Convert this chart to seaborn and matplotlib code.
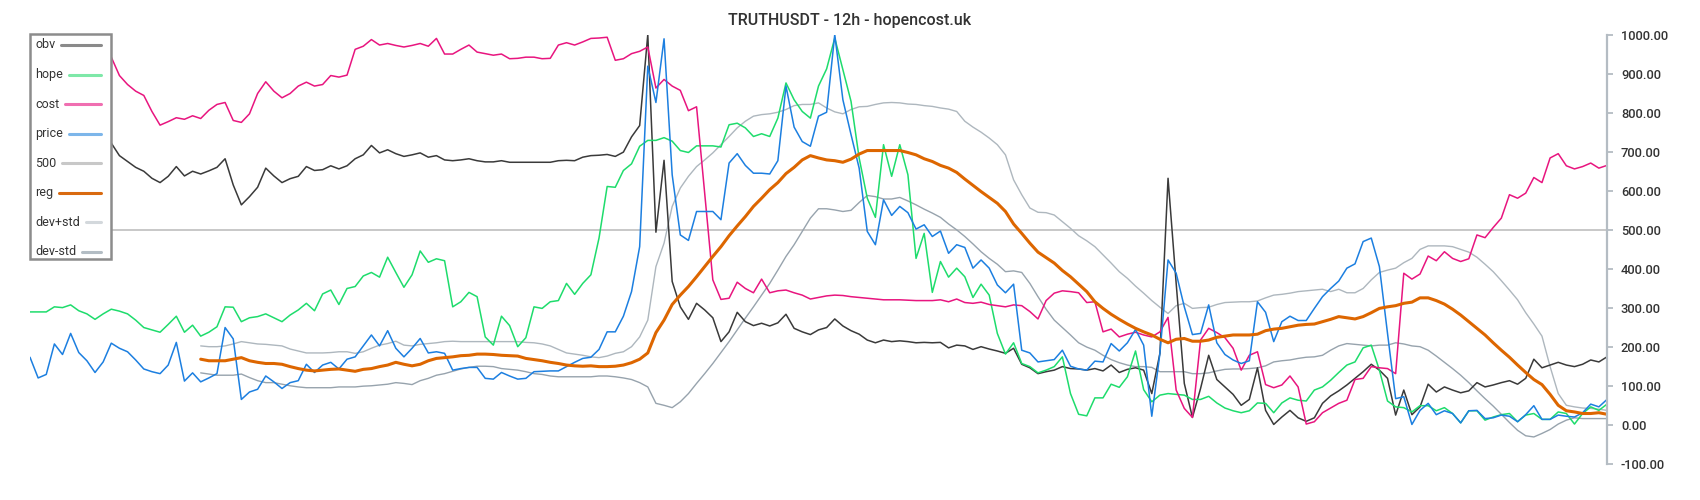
#%% IMPORT PACKAGES AND GLOBAL CONFIGURATIONS
import numpy as np
import pandas as pd
import matplotlib.pyplot as plt
from matplotlib.lines import Line2D
from matplotlib.patches import Rectangle
import seaborn as sns

sns.set_theme(style="white")
plt.rcParams["font.family"] = ["Roboto", "DejaVu Sans"]

#%% DATA
title = 'TRUTHUSDT - 12h - hopencost.uk'
band_start = 21  # reg / dev bands start at this bar
level = 500

obv = [735, 740, 745, 742, 738, 735, 732, 730, 728, 726,
       722, 690, 675, 660, 650, 632, 621, 637, 662, 638,
       650, 643, 651, 660, 682, 615, 564, 585, 609, 658,
       638, 621, 631, 637, 662, 652, 654, 664, 656, 664,
       682, 692, 716, 697, 705, 695, 688, 692, 697, 686,
       690, 679, 677, 679, 682, 677, 674, 674, 677, 673,
       673, 673, 673, 673, 673, 677, 678, 677, 686, 690,
       691, 693, 688, 699, 738, 767, 1000, 494, 678, 368,
       303, 271, 312, 295, 275, 214, 239, 289, 265, 255,
       261, 254, 262, 284, 248, 239, 232, 244, 250, 272,
       254, 242, 233, 218, 211, 218, 214, 216, 214, 211,
       212, 211, 212, 198, 205, 203, 194, 201, 195, 190,
       184, 197, 156, 147, 132, 137, 141, 150, 145, 144,
       141, 145, 139, 154, 135, 143, 147, 141, 81, 184,
       632, 363, 107, 20, 94, 179, 117, 98, 79, 51,
       66, 147, 38, 2, 21, 38, 19, 10, 19, 56,
       75, 88, 103, 120, 137, 156, 141, 120, 26, 90,
       27, 47, 105, 85, 98, 90, 83, 88, 109, 98,
       103, 109, 114, 105, 120, 169, 147, 154, 161, 154,
       150, 156, 167, 162, 175]

hope = [290, 290, 290, 303, 301, 308, 293, 285, 271, 285,
        297, 292, 285, 269, 250, 244, 238, 258, 279, 238,
        256, 228, 238, 252, 303, 302, 265, 275, 278, 285,
        275, 265, 282, 295, 312, 293, 336, 346, 309, 350,
        355, 382, 391, 379, 430, 391, 353, 385, 446, 417,
        426, 421, 303, 316, 340, 329, 226, 205, 279, 255,
        201, 224, 303, 299, 316, 319, 363, 335, 363, 385,
        479, 611, 609, 652, 669, 714, 729, 729, 736, 727,
        703, 698, 715, 715, 715, 712, 769, 773, 761, 739,
        746, 739, 786, 876, 833, 803, 786, 868, 912, 991,
        910, 829, 684, 581, 532, 718, 637, 718, 641, 427,
        491, 340, 419, 379, 402, 380, 327, 361, 333, 235,
        182, 211, 158, 150, 134, 141, 150, 175, 81, 28,
        24, 70, 70, 105, 97, 124, 190, 91, 60, 77,
        81, 79, 77, 66, 66, 74, 57, 44, 37, 32,
        37, 57, 56, 32, 57, 70, 64, 62, 90, 98,
        115, 135, 154, 162, 198, 205, 141, 62, 47, 45,
        34, 50, 50, 37, 45, 30, 6, 37, 37, 13,
        21, 27, 30, 9, 26, 30, 15, 15, 34, 30,
        3, 30, 47, 38, 54]

cost = [985, 992, 998, 1000, 995, 990, 985, 975, 965, 955,
        942, 895, 872, 855, 844, 803, 768, 777, 787, 783,
        792, 785, 806, 821, 826, 780, 775, 797, 849, 879,
        855, 838, 849, 868, 878, 868, 872, 895, 891, 896,
        962, 970, 987, 973, 977, 972, 968, 972, 977, 970,
        990, 950, 950, 962, 973, 955, 951, 947, 950, 938,
        939, 942, 942, 938, 939, 973, 979, 973, 981, 990,
        991, 993, 934, 938, 951, 957, 968, 863, 885, 868,
        857, 805, 815, 594, 372, 322, 325, 366, 350, 339,
        374, 339, 344, 346, 339, 333, 323, 327, 331, 333,
        332, 329, 327, 325, 323, 321, 321, 321, 320, 319,
        319, 319, 321, 316, 323, 314, 312, 315, 309, 306,
        303, 308, 306, 291, 272, 319, 338, 344, 342, 339,
        314, 316, 239, 246, 226, 233, 238, 231, 226, 239,
        276, 90, 43, 20, 218, 248, 237, 224, 197, 141,
        179, 188, 104, 96, 103, 126, 98, 3, 9, 32,
        44, 56, 64, 117, 120, 150, 147, 145, 132, 389,
        374, 387, 433, 421, 444, 427, 419, 426, 487, 480,
        506, 530, 590, 581, 594, 634, 621, 684, 695, 664,
        656, 662, 671, 658, 665]

price = [174, 121, 130, 208, 181, 235, 186, 165, 135, 162,
         210, 197, 188, 167, 144, 137, 132, 154, 212, 113,
         134, 111, 121, 132, 250, 221, 66, 85, 92, 126,
         111, 94, 109, 114, 156, 135, 154, 161, 144, 169,
         175, 203, 231, 203, 242, 197, 175, 197, 222, 185,
         188, 184, 141, 145, 148, 148, 120, 118, 135, 126,
         118, 120, 137, 138, 139, 139, 150, 161, 171, 174,
         194, 239, 239, 279, 342, 457, 919, 826, 989, 641,
         487, 473, 547, 547, 547, 526, 671, 695, 665, 645,
         645, 643, 677, 868, 763, 726, 714, 791, 801, 1000,
         833, 744, 658, 496, 462, 577, 537, 560, 544, 502,
         513, 483, 497, 440, 462, 455, 402, 423, 402, 359,
         339, 361, 192, 185, 162, 165, 168, 192, 151, 144,
         141, 164, 162, 209, 190, 211, 245, 205, 23, 184,
         423, 389, 303, 232, 235, 308, 211, 181, 167, 158,
         165, 316, 289, 214, 265, 279, 268, 268, 299, 329,
         350, 369, 402, 413, 470, 479, 406, 235, 68, 73,
         2, 38, 56, 27, 37, 30, 6, 37, 38, 17,
         19, 26, 23, 9, 27, 50, 15, 15, 26, 23,
         21, 32, 54, 47, 66]

reg = [169, 165, 165, 165, 169, 173, 165, 161, 158,
       158, 156, 150, 145, 141, 139, 141, 143, 144, 141,
       138, 143, 145, 150, 154, 161, 156, 152, 156, 165,
       171, 173, 175, 178, 179, 182, 182, 181, 179, 178,
       177, 171, 168, 165, 161, 158, 154, 152, 151, 152,
       150, 150, 151, 154, 160, 169, 185, 237, 269, 309,
       333, 355, 380, 406, 432, 457, 485, 510, 534, 560,
       581, 603, 621, 644, 660, 679, 690, 684, 679, 677,
       673, 681, 694, 703, 703, 703, 703, 703, 698, 692,
       682, 675, 665, 658, 647, 630, 614, 598, 583, 568,
       547, 515, 491, 466, 443, 429, 415, 396, 380, 361,
       342, 316, 299, 284, 271, 259, 248, 239, 231, 220,
       211, 220, 222, 215, 215, 218, 225, 228, 231, 231,
       231, 233, 242, 246, 248, 252, 256, 258, 259, 265,
       271, 278, 275, 272, 278, 288, 299, 303, 306, 312,
       315, 326, 326, 319, 310, 297, 282, 265, 248, 231,
       211, 192, 174, 154, 135, 117, 104, 79, 51, 37,
       34, 30, 30, 32, 28]

dev_plus = [203, 201, 201, 203, 208, 214, 211, 208, 207,
            205, 203, 195, 190, 185, 185, 185, 186, 188, 188,
            184, 188, 197, 205, 209, 215, 205, 203, 207, 209,
            211, 214, 215, 214, 214, 214, 214, 214, 214, 214,
            214, 212, 211, 208, 203, 194, 185, 182, 179, 175,
            173, 177, 184, 188, 201, 226, 269, 406, 466, 560,
            607, 637, 662, 679, 697, 718, 739, 761, 778, 791,
            795, 797, 801, 808, 818, 821, 821, 825, 812, 802,
            797, 808, 815, 816, 821, 825, 826, 825, 822, 821,
            818, 816, 812, 809, 803, 778, 763, 750, 735, 718,
            692, 628, 590, 556, 545, 544, 538, 521, 504, 485,
            472, 457, 436, 415, 393, 376, 356, 338, 319, 302,
            286, 306, 312, 299, 301, 302, 309, 314, 315, 316,
            316, 318, 326, 333, 335, 338, 342, 344, 346, 348,
            342, 348, 339, 339, 350, 372, 391, 397, 402, 416,
            427, 450, 459, 459, 459, 457, 450, 443, 430, 412,
            393, 370, 346, 321, 288, 259, 228, 150, 81, 51,
            47, 44, 43, 41, 38]

dev_minus = [134, 131, 128, 128, 128, 131, 122, 114, 109,
             109, 105, 101, 98, 96, 96, 96, 96, 98, 98,
             98, 100, 101, 103, 105, 109, 107, 104, 114, 120,
             128, 132, 138, 144, 148, 151, 151, 150, 145, 143,
             141, 137, 132, 130, 126, 124, 124, 124, 124, 124,
             126, 126, 124, 121, 117, 109, 98, 56, 51, 45,
             60, 81, 107, 132, 158, 186, 214, 244, 274, 303,
             333, 363, 397, 432, 462, 496, 530, 554, 554, 551,
             547, 550, 570, 588, 585, 579, 579, 583, 574, 564,
             553, 543, 532, 515, 500, 483, 464, 444, 427, 412,
             393, 395, 391, 363, 329, 297, 269, 250, 231, 211,
             200, 192, 179, 168, 160, 154, 150, 150, 148, 137,
             137, 137, 137, 132, 132, 134, 139, 143, 144, 144,
             145, 147, 152, 162, 165, 167, 171, 174, 175, 179,
             192, 203, 209, 207, 205, 203, 205, 205, 211, 208,
             203, 201, 192, 177, 161, 145, 128, 109, 88, 68,
             49, 28, 7, -13, -27, -30, -21, -11, 3, 13,
             19, 17, 17, 17, 17]

yticks = list(range(-100, 1001, 100))

#%% BUILD FRAMES
bars = np.arange(len(price))
band_x = np.arange(band_start, band_start + len(reg))

series = [
    # label, x, y, colour, width, legend colour
    ('dev-std', band_x, dev_minus, '#97a3ad', 1.0, '#b3bdc4'),
    ('dev+std', band_x, dev_plus, '#aeb7be', 1.0, '#d3d8dc'),
    ('obv', bars, obv, '#3a3a3a', 1.1, '#8a8a8a'),
    ('hope', bars, hope, '#1edc6c', 1.1, '#7ee8a8'),
    ('cost', bars, cost, '#e8157f', 1.1, '#f06fb1'),
    ('price', bars, price, '#1c7fe0', 1.1, '#7db6ea'),
    ('reg', band_x, reg, '#dd6600', 2.2, '#d96a10'),
]

#%% PLOT
W, H = 1700, 500
fig = plt.figure(figsize=(W / 100, H / 100), dpi=100)
ax = fig.add_axes([30 / W, 0.0714, 1577 / W, 0.931 - 0.0714])

ax.axhline(level, color='#c8c8c8', lw=1.4, zorder=1)
for label, x, y, col, lw, _ in series:
    df = pd.DataFrame({'x': x, 'y': y})
    sns.lineplot(data=df, x='x', y='y', color=col, linewidth=lw, ax=ax, zorder=2)

ax.set_xlim(0, len(price) - 1)
ax.set_ylim(-100, 1000)
ax.set_xlabel('')
ax.set_ylabel('')
ax.set_xticks([])
ax.yaxis.tick_right()
ax.set_yticks(yticks)
ax.set_yticklabels([f'{v:.2f}' for v in yticks], fontsize=9.3, color='#333333', fontweight='medium')
ax.tick_params(axis='y', direction='out', length=4, width=1.3, color='#b4bcc3', pad=6, right=True, left=False)
for side in ['top', 'left', 'bottom']:
    ax.spines[side].set_visible(False)
ax.spines['right'].set_color('#b4bcc3')
ax.spines['right'].set_linewidth(1.6)

fig.text(0.5, 1 - 21 / H, title, fontsize=11.5, color='#333333', fontweight='medium', ha='center', va='center')

#%% LEGEND (text left, line filling to the right edge)
legend_cols = {s[0]: s[5] for s in series}
legend_cols['500'] = '#c8c8c8'
order = ['obv', 'hope', 'cost', 'price', '500', 'reg', 'dev+std', 'dev-std']

fig.add_artist(Rectangle((30 / W, 1 - 259 / H), 81 / W, 225 / H, transform=fig.transFigure,
                         facecolor='white', edgecolor='#8c8c8c', lw=1.8, zorder=5))
fig.canvas.draw()
renderer = fig.canvas.get_renderer()
for k, name in enumerate(order):
    yc = 1 - (45 + 29.5 * k) / H
    t = fig.text(35 / W, yc, name, fontsize=9, color='#333333', ha='left', va='center', zorder=6)
    x_end = t.get_window_extent(renderer).x1
    fig.add_artist(Line2D([(x_end + 6) / W, 101 / W], [yc, yc], transform=fig.transFigure,
                          color=legend_cols[name], lw=2.2, zorder=6))

plt.savefig('out.png', dpi=100)
plt.close()
